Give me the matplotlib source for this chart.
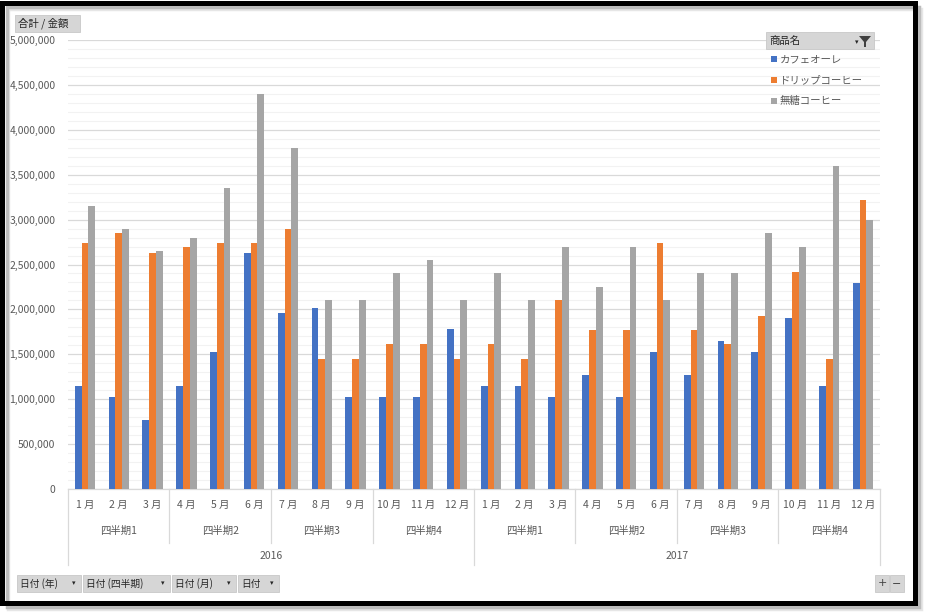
import matplotlib
matplotlib.use("Agg")
import matplotlib.pyplot as plt
import numpy as np
from matplotlib.patches import Rectangle, Polygon
from matplotlib.transforms import blended_transform_factory

plt.rcParams['font.family'] = ['Noto Sans CJK JP', 'DejaVu Sans']

# data
series_names = ['カフェオーレ', 'ドリップコーヒー', '無糖コーヒー']
colors = ['#4472c4', '#ed7d31', '#a5a5a5']
months = ['1 月', '2 月', '3 月', '4 月', '5 月', '6 月',
          '7 月', '8 月', '9 月', '10 月', '11 月', '12 月']
quarters = ['四半期1', '四半期2', '四半期3', '四半期4']
years = ['2016', '2017']

cafe_au_lait = [1150000, 1020000, 770000, 1150000, 1530000, 2630000,
                1960000, 2020000, 1020000, 1020000, 1020000, 1780000,
                1150000, 1150000, 1020000, 1270000, 1020000, 1530000,
                1270000, 1650000, 1530000, 1900000, 1150000, 2290000]
drip_coffee = [2740000, 2850000, 2630000, 2690000, 2740000, 2740000,
               2900000, 1450000, 1450000, 1610000, 1610000, 1450000,
               1610000, 1450000, 2100000, 1770000, 1770000, 2740000,
               1770000, 1610000, 1930000, 2420000, 1450000, 3220000]
unsweetened = [3150000, 2900000, 2650000, 2800000, 3350000, 4400000,
               3800000, 2100000, 2100000, 2400000, 2550000, 2100000,
               2400000, 2100000, 2700000, 2250000, 2700000, 2100000,
               2400000, 2400000, 2850000, 2700000, 3600000, 3000000]
values = [cafe_au_lait, drip_coffee, unsweetened]

W, H = 925, 613
fig = plt.figure(figsize=(W / 100, H / 100), dpi=100)


def fx(x):
    return x / W


def fy(y):
    return 1 - y / H


ax = fig.add_axes([fx(68), fy(489), fx(880) - fx(68), fy(40) - fy(489)])

n = len(cafe_au_lait)
x = np.arange(n)
bw = 0.2
for i, (vals, c) in enumerate(zip(values, colors)):
    ax.bar(x + (i - 1) * bw, vals, width=bw, color=c, zorder=3)

ax.set_xlim(-0.5, n - 0.5)
ax.set_ylim(0, 5000000)
ax.set_yticks(np.arange(0, 5000001, 500000))
ax.set_yticklabels([f'{v:,}' for v in range(0, 5000001, 500000)])
ax.set_yticks(np.arange(0, 5000001, 100000), minor=True)
ax.tick_params(axis='y', which='both', length=0, labelsize=7.5,
               labelcolor='#595959', pad=9)
ax.set_xticks([])
ax.grid(axis='y', which='major', color='#d9d9d9', lw=0.9, zorder=0)
ax.grid(axis='y', which='minor', color='#f2f2f2', lw=0.8, zorder=0)
for s in ax.spines.values():
    s.set_visible(False)

# multi-level category axis
tr = blended_transform_factory(ax.transData, fig.transFigure)
ax.plot([-0.5, n - 0.5], [fy(489)] * 2, transform=tr, color='#d9d9d9',
        lw=0.9, clip_on=False)
for k in range(0, n + 1, 3):
    bottom = 565 if k % 12 == 0 else 543
    ax.plot([k - 0.5, k - 0.5], [fy(489), fy(bottom)], transform=tr,
            color='#d9d9d9', lw=0.9, clip_on=False)
for k in range(n):
    ax.text(k, fy(505), months[k % 12], transform=tr, ha='center',
            va='center', fontsize=7.5, color='#595959')
for q in range(n // 3):
    ax.text(q * 3 + 1, fy(531), quarters[q % 4], transform=tr, ha='center',
            va='center', fontsize=7.5, color='#595959')
for yi, yr in enumerate(years):
    ax.text(yi * 12 + 5.5, fy(556), yr, transform=tr, ha='center',
            va='center', fontsize=7.5, color='#595959')


def button(x0, y0, x1, y1, label, arrow=False, fs=7.5):
    fig.patches.append(Rectangle((fx(x0), fy(y1)), fx(x1) - fx(x0),
                                 fy(y0) - fy(y1), transform=fig.transFigure,
                                 facecolor='#d6d6d6', edgecolor='#c8c8c8',
                                 lw=0.6))
    fig.text(fx(x0 + 3), fy((y0 + y1) / 2), label, fontsize=fs,
             color='#262626', ha='left', va='center')
    if arrow:
        fig.text(fx(x1 - 7), fy((y0 + y1) / 2), '▾', fontsize=5,
                 color='#262626', ha='center', va='center',
                 family='DejaVu Sans')


# top-left value button
button(15, 15, 80, 32, '合計 / 金額')

# legend
button(766, 32, 874, 49, '商品名')
fig.text(fx(857), fy(42), '▾', fontsize=5, color='#262626', ha='center',
         va='center', family='DejaVu Sans')
fig.patches.append(Polygon([(fx(859), fy(36)), (fx(871), fy(36)),
                            (fx(866), fy(42)), (fx(866), fy(47)),
                            (fx(864), fy(47)), (fx(864), fy(42))],
                           closed=True, transform=fig.transFigure,
                           facecolor='#404040', edgecolor='none'))
for i, (name, c) in enumerate(zip(series_names, colors)):
    yy = 59 + i * 21
    fig.patches.append(Rectangle((fx(771), fy(yy + 3)), fx(6), fy(0) - fy(6),
                                 transform=fig.transFigure, facecolor=c,
                                 edgecolor='none'))
    fig.text(fx(780), fy(yy), name, fontsize=7.5, color='#595959',
             ha='left', va='center')

# field buttons at the bottom
for x0, x1, lab in [(17, 81, '日付 (年)'), (83, 170, '日付 (四半期)'),
                    (172, 236, '日付 (月)'), (238, 279, '日付')]:
    button(x0, 575, x1, 592, lab, arrow=True, fs=7)
for x0, x1, lab in [(875, 889, '+'), (890, 904, '−')]:
    fig.patches.append(Rectangle((fx(x0), fy(592)), fx(x1) - fx(x0),
                                 fy(575) - fy(592), transform=fig.transFigure,
                                 facecolor='#d6d6d6', edgecolor='#c8c8c8',
                                 lw=0.6))
    fig.text(fx((x0 + x1) / 2), fy(583.5), lab, fontsize=8, color='#404040',
             ha='center', va='center', family='DejaVu Sans')

# black frame with soft shadow on the right and bottom
for off, col in [(6, '#e6e6e6'), (4.5, '#bdbdbd')]:
    fig.patches.append(Rectangle((fx(2 + off), fy(602.5 + off)), fx(912.5),
                                 fy(0) - fy(600), transform=fig.transFigure,
                                 facecolor='none', edgecolor=col, lw=2.5))
fig.patches.append(Rectangle((fx(2), fy(602.5)), fx(912.5), fy(0) - fy(600),
                             transform=fig.transFigure, facecolor='none',
                             edgecolor='black', lw=3.6))

fig.savefig('out.png', dpi=100)
